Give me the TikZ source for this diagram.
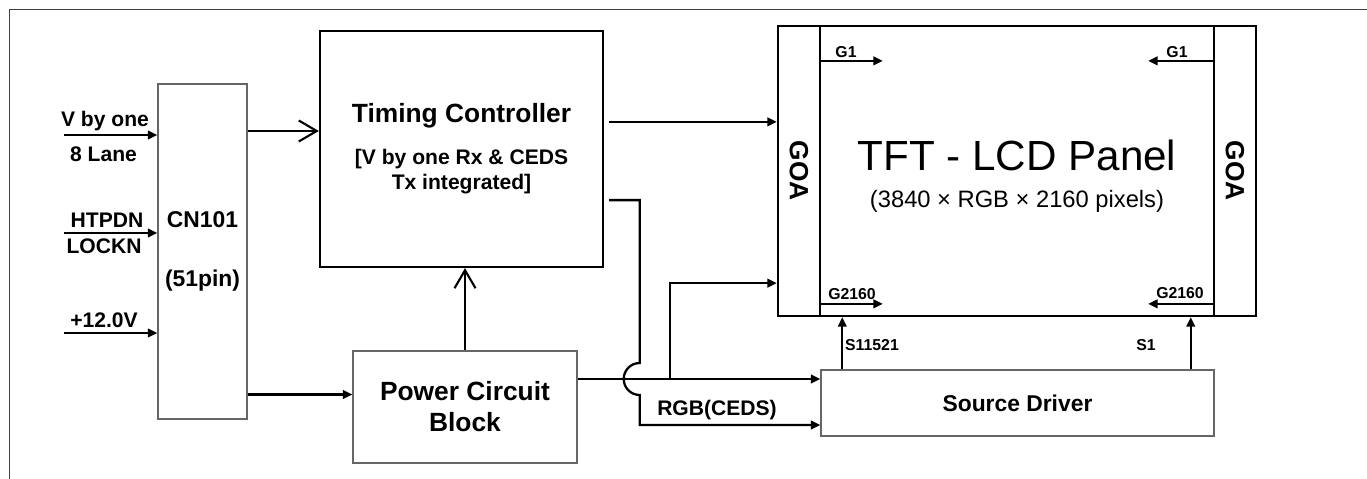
\documentclass[tikz,border=0pt]{standalone}
\usepackage{fontspec}
\setmainfont{Liberation Sans}
\usetikzlibrary{arrows.meta}

\begin{document}
\begin{tikzpicture}[x=0.2mm, y=-0.2mm,
	thinbox/.style={draw=black!60, line width=0.8pt, inner sep=0pt},
	thickbox/.style={draw=black, line width=1.3pt, inner sep=0pt},
	sig/.style={line width=1.3pt, -{Triangle[length=1.9mm, width=1.7mm]}},
	feed/.style={line width=1.2pt, -{Straight Barb[length=3.6mm, width=4.2mm, line width=1.2pt]}},
	lbl/.style={font=\bfseries\fontsize{12}{14.4}\selectfont, anchor=base},
	tag/.style={font=\bfseries\fontsize{9}{11}\selectfont, anchor=base}]
\useasboundingbox (0,0) rectangle (1367,479);
\draw[black!75, line width=1.1pt] (1367,9.5) -- (9.5,9.5) -- (9.5,479);

\node[thinbox, minimum width=17.8mm, minimum height=67mm, align=center,
	font=\bfseries\fontsize{13}{15.6}\selectfont] (cn) at (202.5,251.5) {CN101\\[6.3mm](51pin)};
\node[thickbox, minimum width=56.6mm, minimum height=47.2mm, align=center,
	font=\bfseries\fontsize{12}{14.4}\selectfont] (tcon) at (461.5,149)
	{{\fontsize{15}{18}\selectfont Timing Controller}\\[9.5pt][V by one Rx \& CEDS\\Tx integrated]};
\node[thinbox, minimum width=44.8mm, minimum height=22.4mm, align=center,
	font=\bfseries\fontsize{15}{17.6}\selectfont] (pwr) at (465,407) {Power Circuit\\Block};
\node[thickbox, minimum width=8.4mm, minimum height=58mm] (goaL) at (799,171) {};
\node[thickbox, minimum width=78.8mm, minimum height=58mm] (panel) at (1017,171) {};
\node[thickbox, minimum width=8.4mm, minimum height=58mm] (goaR) at (1235,171) {};
\node[thinbox, minimum width=78.6mm, minimum height=13.2mm,
	font=\bfseries\fontsize{13}{15.6}\selectfont] (src) at (1017.5,403) {Source Driver};

\node[rotate=-90, font=\bfseries\fontsize{15}{18}\selectfont] (goaLtxt) at (goaL) {GOA};
\node[rotate=-90, font=\bfseries\fontsize{15}{18}\selectfont] (goaRtxt) at (goaR) {GOA};
\node[align=center, font=\fontsize{13.5}{16}\selectfont] (paneltxt) at (1017,176)
	{{\fontsize{24}{28}\selectfont TFT - LCD Panel}\\[5pt](3840 × RGB × 2160 pixels)};

\foreach \yy/\nm in {135/vbo, 233/htp, 333/vin}
{
	\coordinate (\nm) at (64,\yy);
	\draw[sig] (\nm) -- (\nm -| cn.west);
}
\foreach \x/\y/\nm/\t in {105/127/vbotxt/V by one, 103.5/162/lanetxt/8 Lane,
	107/228/htptxt/HTPDN, 104/254/locktxt/LOCKN, 104/328/vintxt/+12.0V, 717/416/rgbtxt/RGB(CEDS)}
	\node[lbl] (\nm) at (\x,\y) {\t};

\coordinate (cnout) at ([shift={(0,-120.5)}]cn.east);
\coordinate (cnpwr) at ([shift={(0,143)}]cn.east);
\draw[feed] (cnout) -- (cnout -| tcon.west);
\draw[sig] (cnpwr) -- (cnpwr -| pwr.west);
\draw[feed] (pwr.north) -- (pwr.north |- tcon.south);

\coordinate (tconout) at ([shift={(5,92)}]tcon.north east);
\draw[sig] (tconout) -- (tconout -| goaL.west);

\coordinate (pwrout) at ([shift={(0,-28)}]pwr.east);
\coordinate (split) at ([shift={(92,0)}]pwrout);
\coordinate (hop) at ([shift={(62,0)}]pwrout);
\draw[sig] (pwrout) -- (pwrout -| src.west);
\draw[sig] (split) |- ([shift={(0,-34)}]goaL.south west);

\coordinate (cedsout) at ([shift={(5,-68)}]tcon.south east);
\draw[sig] (cedsout) -| ([shift={(0,-16)}]hop) arc[start angle=90, end angle=270, radius=3.2mm]
	|- ([shift={(0,22)}]src.west);

\foreach \yy/\nm in {36/ga, 279/gb}
{
	\coordinate (\nm-l) at ([shift={(0,\yy)}]panel.north west);
	\coordinate (\nm-le) at ([shift={(64,\yy)}]panel.north west);
	\coordinate (\nm-r) at ([shift={(-2,\yy)}]panel.north east);
	\coordinate (\nm-re) at ([shift={(-67,\yy)}]panel.north east);
	\draw[sig] (\nm-l) -- (\nm-le);
	\draw[sig] (\nm-r) -- (\nm-re);
}
\foreach \x/\y/\nm/\t in {846/58/galtxt/G1, 852/300/gbltxt/G2160, 1177/58/gartxt/G1,
	1180/299/gbrtxt/G2160, 872/351/satxt/S11521, 1146/351/sbtxt/S1}
	\node[tag] (\nm) at (\x,\y) {\t};

\coordinate (sa) at ([shift={(22,0)}]src.north west);
\coordinate (sb) at ([shift={(-24,0)}]src.north east);
\draw[sig] (sa) -- (sa |- panel.south);
\draw[sig] (sb) -- (sb |- panel.south);
\end{tikzpicture}
\end{document}
